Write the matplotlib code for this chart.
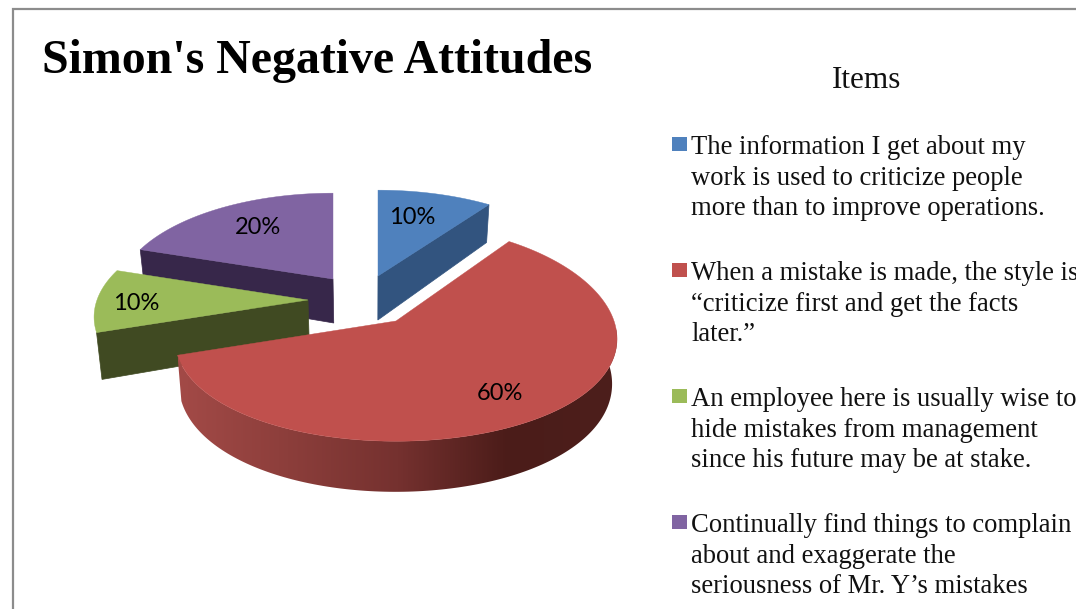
import numpy as np
import matplotlib
matplotlib.use("Agg")
import matplotlib.pyplot as plt
from matplotlib.colors import LinearSegmentedColormap
from matplotlib.patches import Polygon

title = "Simon's Negative Attitudes"
legend_title = "Items"
values = [10, 60, 10, 20]
legend_lines = [
    ["The information I get about my", "work is used to criticize people", "more than to improve operations."],
    ["When a mistake is made, the style is", "\u201ccriticize first and get the facts", "later.\u201d"],
    ["An employee here is usually wise to", "hide mistakes from management", "since his future may be at stake."],
    ["Continually find things to complain", "about and exaggerate the", "seriousness of Mr. Y\u2019s mistakes"],
]
top_colors = ["#4f81bd", "#c0504d", "#9bbb59", "#8064a2"]
wall_colors = ["#32547f", "#4f1f1c", "#404a22", "#37274a"]

# where each exploded slice has its point, and its size
apex = [(378, 276), (396, 321), (308, 300), (333, 279)]
slice_rx = [214, 218, 211, 213]
slice_ry = [100, 107, 100, 100]
slice_persp_y = [0.165, 0.11, 0.165, 0.165]
label_pos = [(412, 217), (500, 394), (136, 304), (258, 227)]

PERSP_X = 0.165
DEPTH = 44

rim_cmap = LinearSegmentedColormap.from_list(
    "rim", ["#a34a47", "#8c3e3b", "#75312f", "#4b1c19", "#4d1f1c"])


def project(i, theta):
    # theta runs clockwise from the back of the pie
    s = 1 / (1 + PERSP_X * np.cos(theta))
    x = apex[i][0] + slice_rx[i] * np.sin(theta) * s
    s_y = 1 / (1 + slice_persp_y[i] * np.cos(theta))
    y = apex[i][1] - slice_ry[i] * np.cos(theta) * s_y
    return x, y, s_y


def drop(x, y, s):
    # lower edge of the pie, pulled a little towards the vanishing point
    return x + 0.02 * (370 - x), y + DEPTH * s ** 1.2


fig = plt.figure(figsize=(10.76, 6.09), dpi=100)
ax = fig.add_axes([0, 0, 1, 1])
ax.axis("off")

# chart frame, cut off by the edge of the image
ax.plot([13, 13, 1076], [609, 9, 9], color="#8c8c8c", lw=1.6, solid_joinstyle="miter")

fractions = np.array(values) / sum(values)
edges = np.concatenate([[0], np.cumsum(fractions)]) * 2 * np.pi

# back slices first so the red one ends up on top
for i in [3, 0, 2, 1]:
    ax0, ay0 = apex[i]
    t = np.linspace(edges[i], edges[i + 1], 200)
    x, y, s = project(i, t)

    # flat cut wall facing the viewer
    cut = {0: 1, 2: 0, 3: 0}.get(i)
    if cut is not None:
        ex, ey, es = project(i, edges[i + cut])
        bx0, by0 = drop(ax0, ay0, 1.0)
        bx1, by1 = drop(ex, ey, es)
        ax.fill([ax0, ex, bx1, bx0], [ay0, ey, by1, by0],
                color=wall_colors[i], lw=0.5, zorder=i + 1 if i != 3 else 1)

    # outer rim of the big slice, shaded from left to right
    if i == 1:
        front = ~((y < ay0) & (x > ax0))
        bx, by = drop(x[front], y[front], s[front])
        rim = Polygon(np.c_[np.r_[x[front], bx[::-1]], np.r_[y[front], by[::-1]]],
                      closed=True, transform=ax.transData, fc="none", ec="none")
        ax.add_patch(rim)
        shade = np.linspace(0, 1, 256).reshape(1, -1)
        img = ax.imshow(shade, cmap=rim_cmap, extent=(178, 618, 520, 330),
                        aspect="auto", zorder=6)
        img.set_clip_path(rim)

    z = {3: 2, 0: 2, 2: 4, 1: 7}[i]
    ax.fill(np.r_[ax0, x], np.r_[ay0, y], color=top_colors[i], lw=0.3, zorder=z)

for v, (lx, ly) in zip(values, label_pos):
    ax.text(lx, ly, f"{v}%", ha="center", va="center", fontsize=17,
            family="Lato", color="black", zorder=10)

ax.text(42, 73, title, fontsize=34.5, fontweight="bold",
        family="Liberation Serif", color="black", va="baseline")
ax.text(867, 88, legend_title, fontsize=22.5, family="Liberation Serif",
        ha="center", va="baseline", color="#111111")

# legend entries, three lines each
for k, lines in enumerate(legend_lines):
    y0 = 154 + k * 126
    ax.fill([672, 687, 687, 672], [y0 - 17, y0 - 17, y0 - 3, y0 - 3],
            color=top_colors[k], lw=0)
    for n, line in enumerate(lines):
        ax.text(691, y0 + n * 30.7, line, fontsize=19.2,
                family="Liberation Serif", color="#111111", va="baseline")

ax.set_xlim(0, 1076)
ax.set_ylim(609, 0)

fig.savefig("out.png", dpi=100)
